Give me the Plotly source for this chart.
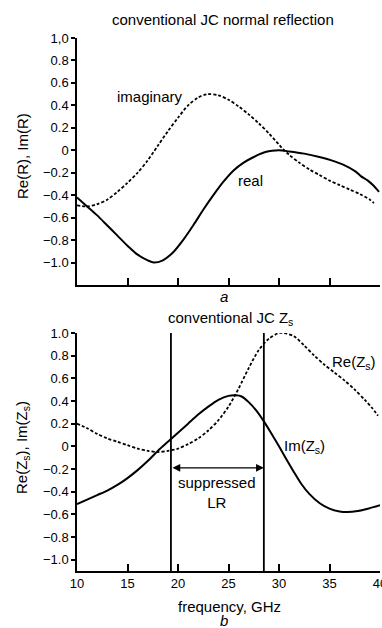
import plotly.graph_objects as go

# ---------------- data ----------------
# (a) conventional JC normal reflection
a_real_f = [10, 11, 12, 13, 14, 15, 16, 17, 17.6, 18.5, 19.5, 20.5, 21.5, 22.5, 23.5, 24.5,
            25.5, 26.5, 27.5, 28.5, 29.3, 30, 31, 32.5, 34, 35.2, 36.4, 37.6, 38.1, 38.8,
            39.3, 39.9]
a_real_v = [-0.42, -0.50, -0.58, -0.67, -0.76, -0.85, -0.93, -0.98, -1.0, -0.98, -0.91,
            -0.8, -0.67, -0.53, -0.4, -0.28, -0.18, -0.11, -0.06, -0.02, -0.005, 0.0,
            -0.01, -0.03, -0.06, -0.09, -0.13, -0.19, -0.23, -0.27, -0.31, -0.37]
a_imag_f = [10, 11, 12, 13, 14, 15, 16, 17, 18, 19, 20, 21, 22, 22.9, 24, 25, 26, 27, 28,
            29, 30, 30.4, 31, 32, 33, 34, 35, 36, 37, 38, 39, 39.4]
a_imag_v = [-0.49, -0.5, -0.48, -0.44, -0.37, -0.29, -0.2, -0.09, 0.04, 0.17, 0.29, 0.4,
            0.47, 0.5, 0.49, 0.45, 0.39, 0.32, 0.24, 0.15, 0.05, 0.01, -0.04, -0.11, -0.17,
            -0.22, -0.27, -0.31, -0.35, -0.39, -0.44, -0.47]

# (b) conventional JC Zs
b_re_f = [10, 11, 12, 13, 14, 15, 16, 17, 18, 19, 20, 21, 22, 23, 24, 25, 26, 27, 28, 29,
          30, 30.5, 31.5, 32.5, 33.5, 34.5, 35.5, 36.5, 37.5, 38.5, 39.2, 39.8]
b_re_v = [0.2, 0.16, 0.11, 0.07, 0.04, 0.01, -0.02, -0.04, -0.05, -0.04, -0.02, 0.02, 0.07,
          0.14, 0.23, 0.35, 0.51, 0.69, 0.85, 0.95, 1.0, 1.0, 0.97, 0.89, 0.8, 0.72, 0.65,
          0.58, 0.5, 0.41, 0.34, 0.27]
b_im_f = [10, 11, 12, 13, 14, 15, 16, 17, 18, 19, 20, 21, 22, 23, 24, 25, 25.7, 26.3, 27,
          27.8, 28.5, 29.2, 30, 30.7, 31.5, 32.2, 33, 34, 35, 36, 36.8, 37.8, 38.8, 40]
b_im_v = [-0.51, -0.47, -0.43, -0.39, -0.34, -0.28, -0.21, -0.13, -0.04, 0.04, 0.12, 0.2,
          0.28, 0.35, 0.41, 0.445, 0.45, 0.44, 0.39, 0.31, 0.22, 0.12, 0.0, -0.11, -0.23,
          -0.33, -0.42, -0.5, -0.55, -0.575, -0.58, -0.57, -0.55, -0.52]

lr_bounds = [19.3, 28.5]  # suppressed LR band, GHz

x_ticks = [10, 15, 20, 25, 30, 35, 40]
x_ticktext = ["10", "15", "20", "25", "30", "35", "40"]
y_ticks = [-1.0, -0.8, -0.6, -0.4, -0.2, 0, 0.2, 0.4, 0.6, 0.8, 1.0]
y_ticktext_a = ["\u22121.0", "\u22120.8", "\u22120.6", "\u22120.4", "\u22120.2", "0",
                "0.2", "0.4", "0.6", "0.8", "1,0"]
y_ticktext_b = ["\u22121.0", "\u22120.8", "\u22120.6", "\u22120.4", "\u22120.2", "0",
                "0.2", "0.4", "0.6", "0.8", "1.0"]

# ---------------- figure ----------------
FONT = "Liberation Sans, Arial, Helvetica, sans-serif"
solid = dict(color="black", width=2.0, shape="spline", smoothing=0.8)
dashed = dict(color="black", width=1.8, dash="3px,2px", shape="spline", smoothing=0.8)

fig = go.Figure()
fig.add_trace(go.Scatter(x=a_real_f, y=a_real_v, mode="lines", line=solid, xaxis="x", yaxis="y"))
fig.add_trace(go.Scatter(x=a_imag_f, y=a_imag_v, mode="lines", line=dashed, xaxis="x", yaxis="y"))
fig.add_trace(go.Scatter(x=b_re_f, y=b_re_v, mode="lines", line=dashed, xaxis="x2", yaxis="y2"))
fig.add_trace(go.Scatter(x=b_im_f, y=b_im_v, mode="lines", line=solid, xaxis="x2", yaxis="y2"))

W, H = 382, 628
xdom = [77 / W, 380 / W]
ydom_a = [1 - 285 / H, 1 - 38 / H]
ydom_b = [1 - 571 / H, 1 - 333 / H]

axis_common = dict(showline=True, linecolor="black", linewidth=1.5, showgrid=False,
                   zeroline=False, mirror=False, tickcolor="black", tickwidth=1.5,
                   ticklabeloverflow="allow", automargin=False,
                   tickfont=dict(family=FONT, size=13, color="black"))

fig.update_layout(
    width=W, height=H, margin=dict(l=0, r=0, t=0, b=0, autoexpand=False),
    paper_bgcolor="white", plot_bgcolor="white", showlegend=False,
    font=dict(family=FONT, size=13, color="black"),
    xaxis=dict(domain=xdom, range=[10, 40], anchor="y", tickvals=x_ticks,
               showticklabels=False, ticks="inside", ticklen=7, **axis_common),
    yaxis=dict(domain=ydom_a, range=[-1.2, 1.0], anchor="x", tickvals=y_ticks,
               ticktext=y_ticktext_a, ticks="outside", ticklen=4, **axis_common),
    xaxis2=dict(domain=xdom, range=[10, 40], anchor="y2", tickvals=x_ticks,
                ticktext=x_ticktext, ticks="inside", ticklen=7, **axis_common),
    yaxis2=dict(domain=ydom_b, range=[-1.1, 1.0], anchor="x2", tickvals=y_ticks,
                ticktext=y_ticktext_b, ticks="outside", ticklen=4, **axis_common),
)

# vertical lines bounding the suppressed LR band
for xb in lr_bounds:
    fig.add_shape(type="line", xref="x2", yref="y2", x0=xb, x1=xb, y0=-1.1, y1=1.0,
                  line=dict(color="black", width=1.8))

# double-headed arrow
fig.add_annotation(x=lr_bounds[1], y=-0.19, ax=lr_bounds[0], ay=-0.19,
                   xref="x2", yref="y2", axref="x2", ayref="y2", text="",
                   showarrow=True, arrowhead=2, startarrowhead=2, arrowside="end+start",
                   arrowsize=1.2, startarrowsize=1.2, arrowwidth=1.3, arrowcolor="black",
                   standoff=0, startstandoff=0)

def txt(x, y, s, size=15, xref="paper", yref="paper", **kw):
    fig.add_annotation(x=x, y=y, xref=xref, yref=yref, text=s, showarrow=False,
                       xanchor="center", yanchor="middle",
                       font=dict(family=FONT, size=size, color="black"), **kw)

# titles
txt(223 / W, 1 - 20 / H, "conventional JC normal reflection")
txt(230 / W, 1 - 318 / H, "conventional JC Z<sub>s</sub>")
# y-axis titles
txt(23 / W, 1 - 156 / H, "Re(R), Im(R)", textangle=-90)
txt(23 / W, 1 - 448 / H, "Re(Z<sub>s</sub>), Im(Z<sub>s</sub>)", textangle=-90)
# x-axis title and panel letters
txt(229 / W, 1 - 606 / H, "frequency, GHz")
txt(224 / W, 1 - 297 / H, "<i>a</i>")
txt(224 / W, 1 - 620 / H, "<i>b</i>")

# curve labels
txt(17.2, 0.48, "imaginary", xref="x", yref="y")
txt(27.2, -0.27, "real", xref="x", yref="y")
txt(37.4, 0.74, "Re(Z<sub>s</sub>)", xref="x2", yref="y2")
txt(32.5, 0.0, "Im(Z<sub>s</sub>)", xref="x2", yref="y2")
txt(23.9, -0.41, "suppressed<br>LR", xref="x2", yref="y2")

fig.write_html("out.html")
